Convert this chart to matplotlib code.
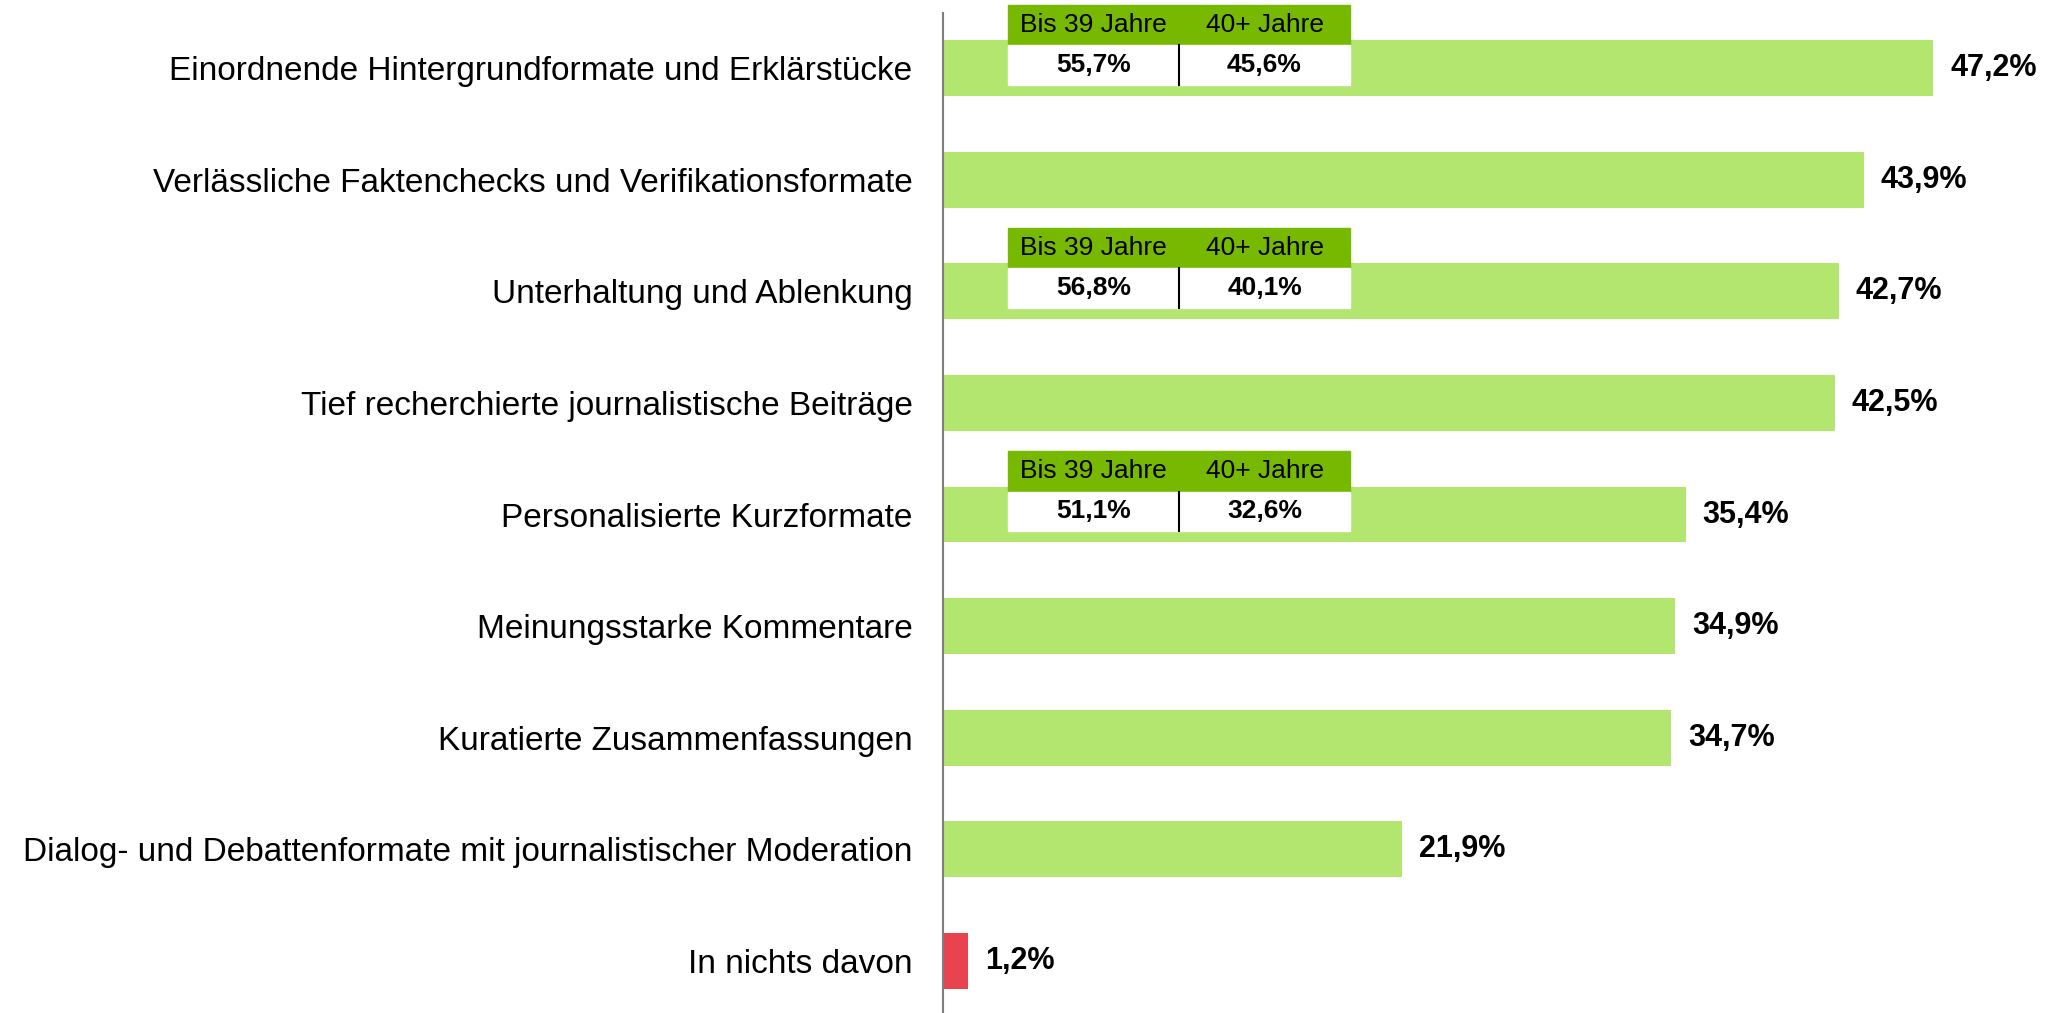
import matplotlib.pyplot as plt
from matplotlib.patches import Rectangle

plt.rcParams['font.family'] = ['Liberation Sans', 'DejaVu Sans']

categories = [
    'Einordnende Hintergrundformate und Erklärstücke',
    'Verlässliche Faktenchecks und Verifikationsformate',
    'Unterhaltung und Ablenkung',
    'Tief recherchierte journalistische Beiträge',
    'Personalisierte Kurzformate',
    'Meinungsstarke Kommentare',
    'Kuratierte Zusammenfassungen',
    'Dialog- und Debattenformate mit journalistischer Moderation',
    'In nichts davon',
]
values = [47.2, 43.9, 42.7, 42.5, 35.4, 34.9, 34.7, 21.9, 1.2]
labels = ['47,2%', '43,9%', '42,7%', '42,5%', '35,4%', '34,9%', '34,7%', '21,9%', '1,2%']

# age split insets: category index -> (under 40, 40+)
age_rows = [0, 2, 4]
age_young = ['55,7%', '56,8%', '51,1%']
age_old = ['45,6%', '40,1%', '32,6%']
age_headers = ['Bis 39 Jahre', '40+ Jahre']

green = '#b3e66e'
red = '#e8434f'
header_green = '#77b800'

fig = plt.figure(figsize=(20.51, 10.13), dpi=100)
ax = fig.add_axes([943 / 2051, 0, 1091 / 2051, 1000 / 1013])

ys = list(range(len(categories)))
colors = [green] * (len(values) - 1) + [red]
ax.barh(ys, values, height=0.5, color=colors)

for y, v, lab in zip(ys, values, labels):
    ax.text(v + 0.8, y, lab, va='center', ha='left', fontsize=22, fontweight='bold')

ax.set_xlim(0, 52)
ax.set_ylim(8.466, -0.493)
ax.set_yticks(ys)
ax.set_yticklabels(categories, fontsize=24)
ax.tick_params(axis='y', length=0, pad=22)
ax.set_xticks([])
for side in ['top', 'right', 'bottom']:
    ax.spines[side].set_visible(False)
ax.spines['left'].set_color('#7f7f7f')
ax.spines['left'].set_linewidth(1.5)

# inset boxes
x0, x1, xm = 3.1, 19.4, 11.25
for row, yv, ov in zip(age_rows, age_young, age_old):
    top = row - 0.565
    mid = row - 0.206
    bot = row + 0.152
    ax.add_patch(Rectangle((x0, top), x1 - x0, mid - top, color=header_green, zorder=3, clip_on=False))
    ax.add_patch(Rectangle((x0, mid), x1 - x0, bot - mid, color='white', zorder=3, clip_on=False))
    ax.plot([xm, xm], [mid, bot], color='black', lw=1.5, zorder=4)
    hy = (top + mid) / 2
    vy = (mid + bot) / 2
    ax.text((x0 + xm) / 2, hy, age_headers[0], ha='center', va='center', fontsize=19, zorder=5)
    ax.text((xm + x1) / 2, hy, age_headers[1], ha='center', va='center', fontsize=19, zorder=5)
    ax.text((x0 + xm) / 2, vy, yv, ha='center', va='center', fontsize=19, fontweight='bold', zorder=5)
    ax.text((xm + x1) / 2, vy, ov, ha='center', va='center', fontsize=19, fontweight='bold', zorder=5)

fig.savefig('out.png', dpi=100)
